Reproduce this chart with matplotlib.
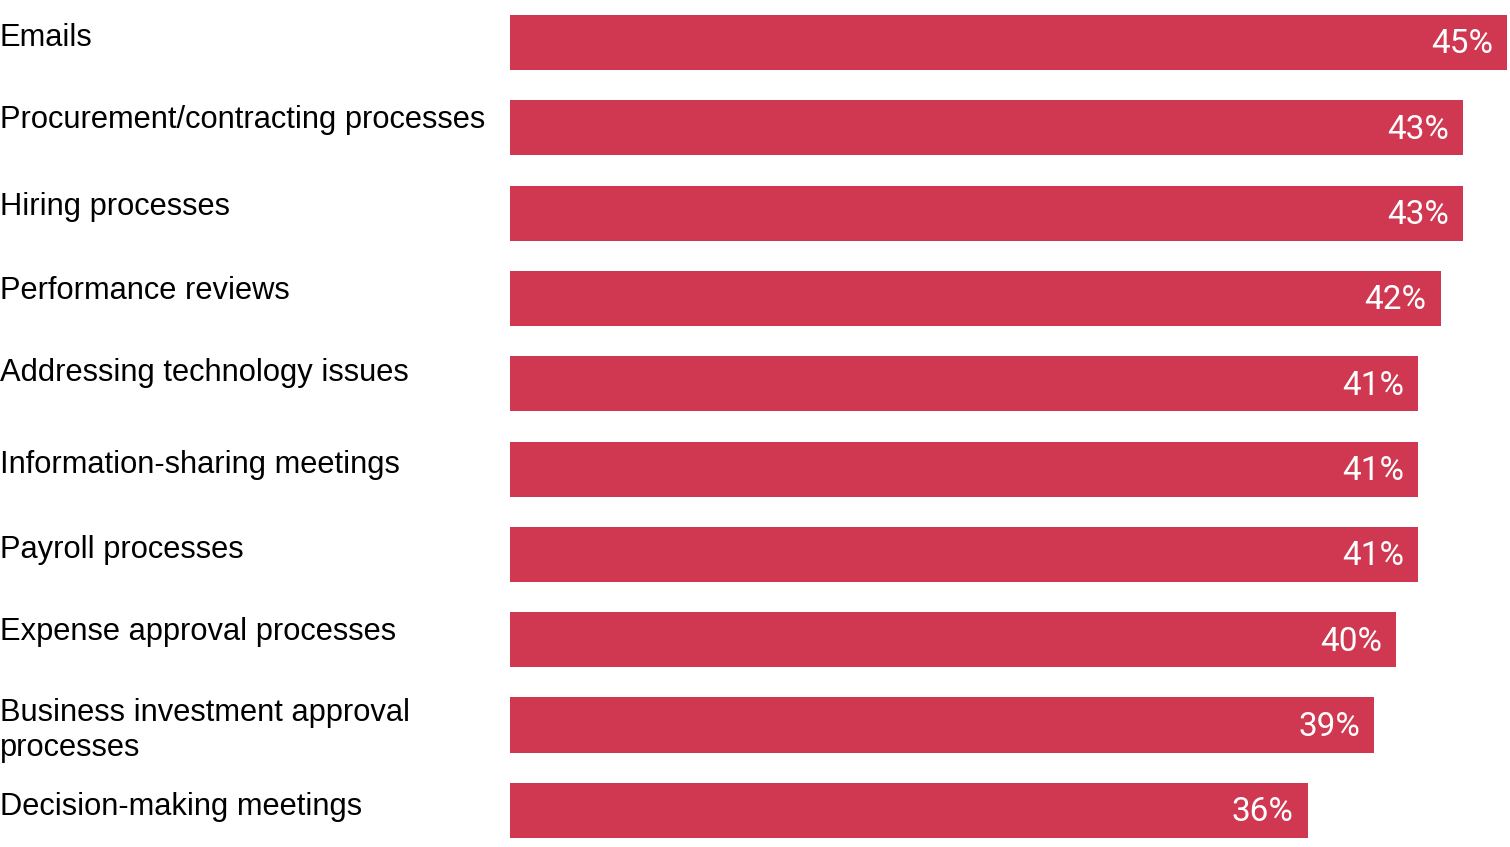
import matplotlib.pyplot as plt
from matplotlib.transforms import blended_transform_factory, offset_copy

categories = [
    'Emails',
    'Procurement/contracting processes',
    'Hiring processes',
    'Performance reviews',
    'Addressing technology issues',
    'Information-sharing meetings',
    'Payroll processes',
    'Expense approval processes',
    'Business investment approval\nprocesses',
    'Decision-making meetings',
]
values = [45, 43, 43, 42, 41, 41, 41, 40, 39, 36]
value_labels = ['45%', '43%', '43%', '42%', '41%', '41%', '41%', '40%', '39%', '36%']

bar_color = '#D03751'

# ligne de base de chaque libellé, en pixels sous le centre de la barre
decalages = [4, 0.5, 1.5, 0.5, -3, 3.5, 3.5, 0.5, -4, 4.5]

fig = plt.figure(figsize=(15.1, 8.47), dpi=100)
ax = fig.add_axes([510 / 1510, 0, 997 / 1510, 1])

pos = list(range(len(categories)))
ax.barh(pos, values, height=0.645, color=bar_color)

ax.set_xlim(0, 45)
ax.set_ylim(9.43, -0.498)
ax.axis('off')

# libellés à gauche, alignés sur le bord de la figure
trans = blended_transform_factory(fig.transFigure, ax.transData)
for i, cat in enumerate(categories):
    for k, ligne in enumerate(cat.split('\n')):
        dy = -(decalages[i] + 35 * k)
        t = offset_copy(trans, fig=fig, x=0, y=dy * 72 / 100, units='points')
        ax.text(0, i, ligne, transform=t, ha='left', va='baseline',
                fontsize=22.2, family='Liberation Sans', color='black')

# valeurs dans les barres
for i, (v, lab) in enumerate(zip(values, value_labels)):
    ax.annotate(lab, xy=(v, i), xytext=(-10, -7.9), textcoords='offset points',
                ha='right', va='baseline', color='white', fontsize=24,
                family='Roboto')

fig.savefig('out.png', dpi=100)
